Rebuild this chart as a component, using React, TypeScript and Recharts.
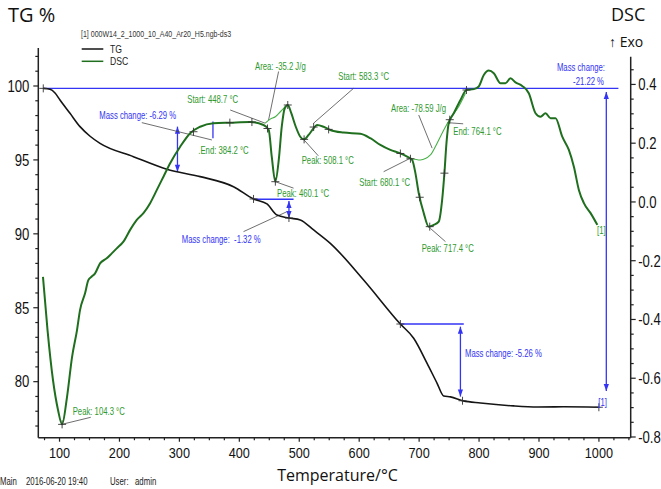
import React from 'react'
import { ComposedChart, Line, Scatter, XAxis, YAxis, ReferenceLine } from 'recharts'

// TG curve (temperature °C, mass %)
const tgTemp = [72.9, 84.1, 92.5, 100.8, 117.5, 134.2, 151, 167.6, 223.3, 279, 334.7, 390.3, 423.7, 446.1, 462.8, 482.8, 501.7, 524, 551.8, 607.4, 668.7, 690.9, 713.3, 730, 741, 752.2, 773.9, 802.4, 857.5, 897.6, 941, 999.9]
const tgMass = [99.84, 99.78, 99.53, 99.05, 98.15, 97.25, 96.6, 96.12, 95.22, 94.37, 93.87, 93.19, 92.36, 92.02, 91.27, 91.07, 90.94, 90.26, 89.36, 86.88, 83.9, 82.94, 81.24, 79.89, 79.03, 78.97, 78.7, 78.56, 78.36, 78.29, 78.3, 78.27]

// DSC curve (temperature °C, signal)
const dscTemp = [72.4, 80, 89.1, 97.5, 104.3, 112.5, 120.9, 129.2, 134.2, 142.6, 148.1, 153.8, 159.3, 167.6, 178.8, 187.2, 195.5, 206.6, 217.8, 228.9, 240, 251.2, 262.4, 273.4, 284.6, 301.3, 318, 334.7, 356.9, 384.8, 418.2, 440.4, 449.1, 454.1, 460.1, 465.8, 470.8, 475.8, 480.8, 486.7, 494.2, 501.7, 508.1, 515.6, 523.9, 529.6, 540.6, 551.8, 574, 601.9, 618.6, 635.3, 652, 667.6, 679.9, 688.3, 693.8, 699.3, 707.7, 716, 724.4, 732.7, 738.4, 742.2, 745.6, 749.4, 757.8, 769, 779, 791.2, 799.5, 807.9, 816.2, 824.6, 835.8, 844.1, 852.5, 860.8, 872, 883, 894.2, 902.6, 910.9, 919.3, 927.6, 938.8, 949.8, 958.2, 966.5, 974.9, 986.1, 997.3]
const dscValue = [-0.255, -0.436, -0.606, -0.708, -0.757, -0.664, -0.528, -0.436, -0.368, -0.311, -0.266, -0.254, -0.243, -0.209, -0.192, -0.175, -0.158, -0.135, -0.095, -0.061, -0.038, -0.004, 0.041, 0.086, 0.132, 0.188, 0.234, 0.256, 0.268, 0.27, 0.272, 0.262, 0.245, 0.154, 0.069, 0.143, 0.256, 0.319, 0.33, 0.302, 0.256, 0.222, 0.213, 0.228, 0.251, 0.262, 0.256, 0.245, 0.236, 0.232, 0.217, 0.194, 0.177, 0.166, 0.154, 0.143, 0.098, 0.03, -0.038, -0.084, -0.078, -0.067, 0.007, 0.098, 0.2, 0.268, 0.302, 0.347, 0.381, 0.384, 0.393, 0.432, 0.447, 0.438, 0.404, 0.404, 0.421, 0.407, 0.395, 0.37, 0.302, 0.29, 0.302, 0.285, 0.285, 0.222, 0.177, 0.12, 0.041, -0.004, -0.038, -0.078]

// peak baselines (light green)
const base1Temp = [443.2, 451.6, 460.1, 468.4, 476.8]
const base1Value = [0.268, 0.282, 0.29, 0.307, 0.325]
const base2Temp = [685.5, 702.1, 718.8, 730, 741.1, 752.2, 766.1, 777.3]
const base2Value = [0.149, 0.143, 0.16, 0.2, 0.245, 0.285, 0.325, 0.37]

// evaluation markers
const dscMarkTemp = [104.3, 323.5, 384.2, 421, 447, 460.1, 480.8, 508.1, 524, 549, 668.7, 685.5, 701, 717.7, 742.2, 751.1, 779]
const dscMarkValue = [-0.757, 0.239, 0.27, 0.272, 0.25, 0.069, 0.33, 0.213, 0.255, 0.247, 0.165, 0.147, 0.016, -0.084, 0.098, 0.28, 0.381]
const tgMarkTemp = [72.9, 423.7, 482.8, 668.7, 772.4, 999.9]
const tgMarkValue = [99.84, 92.36, 91.07, 83.9, 78.71, 78.27]

// axis ticks
const xMajor = [100, 200, 300, 400, 500, 600, 700, 800, 900, 1000]
const tgMajor = [80, 85, 90, 95, 100]
const dscMajor = [-0.8, -0.6, -0.4, -0.2, 0, 0.2, 0.4]

const range = (a: number, b: number, step: number) => {
  const out: number[] = []
  for (let i = 0; a + i * step <= b + 1e-9; i++) out.push(Math.round((a + i * step) * 1000) / 1000)
  return out
}
const xTicks = range(75, 1050, 25)
const tgTicks = range(77, 102, 1)
const dscTicks = range(-0.8, 0.45, 0.05)

const zip = (t: number[], v: number[]) => t.map((x, i) => ({ t: x, v: v[i] }))
const tgData = zip(tgTemp, tgMass)
const dscData = zip(dscTemp, dscValue)
const base1 = zip(base1Temp, base1Value)
const base2 = zip(base2Temp, base2Value)
const dscMarks = zip(dscMarkTemp, dscMarkValue)
const tgMarks = zip(tgMarkTemp, tgMarkValue)

const X_DOMAIN: [number, number] = [64.6, 1053]
const DSC_DOMAIN: [number, number] = [-0.8024, 0.524]

const ARIAL = "'Liberation Sans', Arial, sans-serif"
const SANS = "'Open Sans', 'Noto Sans', sans-serif"
const BLUE = '#3434f4'
const GREEN_TXT = '#30992f'
const DARK_GREEN = '#1f6f1f'
const LIGHT_GREEN = '#45b045'
const LEADER = '#4a4a4a'
const AXIS = '#222'

// condensed text: Arial squeezed horizontally, like Arial Narrow
const NText = ({ x, y, size, fill = '#111', anchor = 'start', sx = 0.82, children }: any) => (
  <text
    transform={`translate(${x},${y}) scale(${sx},1)`}
    fontFamily={ARIAL}
    fontSize={size}
    fill={fill}
    textAnchor={anchor}
    style={{ whiteSpace: 'pre' }}
  >
    {children}
  </text>
)

const near = (a: number, list: number[]) => list.some((m) => Math.abs(m - a) < 1e-6)

const XTick = (p: any) => {
  const major = near(p.payload.value, xMajor)
  return (
    <g>
      <line x1={p.x} y1={p.y} x2={p.x} y2={p.y + (major ? 4 : 2.5)} stroke={AXIS} strokeWidth={1.2} />
      {major && (
        <NText x={p.x} y={p.y + 20.5} size={15.5} anchor="middle">
          {p.payload.value}
        </NText>
      )}
    </g>
  )
}

const LeftTick = (p: any) => {
  const major = near(p.payload.value, tgMajor)
  return (
    <g>
      <line x1={p.x - (major ? 5 : 3)} y1={p.y} x2={p.x} y2={p.y} stroke={AXIS} strokeWidth={1.2} />
      {major && (
        <NText x={p.x - 9} y={p.y + 5.8} size={16} anchor="end">
          {p.payload.value}
        </NText>
      )}
    </g>
  )
}

const RightTick = (p: any) => {
  const major = near(p.payload.value, dscMajor)
  return (
    <g>
      <line x1={p.x} y1={p.y} x2={p.x + (major ? 5 : 3)} y2={p.y} stroke={AXIS} strokeWidth={1.2} />
      {major && (
        <NText x={p.x + 7.5} y={p.y + 5.8} size={16}>
          {p.payload.value.toFixed(1)}
        </NText>
      )}
    </g>
  )
}

const Cross = (p: any) => (
  <path d={`M${p.cx - 4},${p.cy}H${p.cx + 4}M${p.cx},${p.cy - 4}V${p.cy + 4}`} stroke="#333" strokeWidth={0.9} />
)

const Arrow = (p: any) => {
  const { x1, y1, y2 } = p
  const top = Math.min(y1, y2)
  const bot = Math.max(y1, y2)
  return (
    <g>
      <line x1={x1} y1={top} x2={x1} y2={bot} stroke={BLUE} strokeWidth={1.3} />
      <polygon points={`${x1},${top} ${x1 - 2.6},${top + 7} ${x1 + 2.6},${top + 7}`} fill={BLUE} />
      <polygon points={`${x1},${bot} ${x1 - 2.6},${bot - 7} ${x1 + 2.6},${bot - 7}`} fill={BLUE} />
    </g>
  )
}

// blue mass-change construction lines on the TG axis: [t1, v1, t2, v2]
const tgGuides = [
  [72.9, 99.84, 1032.5, 99.84],
  [356, 97.59, 356, 96.46],
  [423.7, 92.34, 490.5, 92.34],
  [668.7, 83.9, 774.5, 83.9],
]
const tgArrows = [
  [1012.3, 99.6, 1012.3, 79.37],
  [296.8, 97.25, 296.8, 94.2],
  [482.8, 92.22, 482.8, 91.07],
  [768.9, 83.72, 768.9, 78.99],
]
// grey leader lines: [t1, v1, t2, v2]
const dscLeaders = [
  [103.7, -0.757, 152.1, -0.733],
  [237.3, 0.27, 354.2, 0.211],
  [384.8, 0.313, 443.2, 0.268],
  [465.5, 0.444, 448.8, 0.279],
  [460.1, 0.069, 490.5, 0.047],
  [507.2, 0.213, 531.8, 0.157],
  [590.7, 0.387, 523.9, 0.268],
  [699.3, 0.296, 721.7, 0.183],
  [640.8, 0.103, 685.5, 0.149],
  [746.7, 0.27, 773.5, 0.266],
  [718.8, -0.09, 743.9, -0.135],
]
const tgLeaders = [[407, 90.15, 479.5, 91.5]]

type Note = { text: string; x: number; y: number; color: string; anchor?: 'start' | 'end' }
const notes: Note[] = [
  { text: 'Peak: 104.3 °C', x: 72.7, y: 410.7, color: GREEN_TXT },
  { text: 'Start: 448.7 °C', x: 187.3, y: 99.3, color: GREEN_TXT },
  { text: 'Area: -35.2 J/g', x: 255, y: 66, color: GREEN_TXT },
  { text: '.End: 384.2 °C', x: 198.3, y: 150, color: GREEN_TXT },
  { text: 'Peak: 460.1 °C', x: 277, y: 192.7, color: GREEN_TXT },
  { text: 'Peak: 508.1 °C', x: 301.7, y: 160, color: GREEN_TXT },
  { text: 'Start: 583.3 °C', x: 338.3, y: 76, color: GREEN_TXT },
  { text: 'Area: -78.59 J/g', x: 391, y: 108.3, color: GREEN_TXT },
  { text: 'Start: 680.1 °C', x: 359.3, y: 181.7, color: GREEN_TXT },
  { text: 'End: 764.1 °C', x: 453.3, y: 131, color: GREEN_TXT },
  { text: 'Peak: 717.4 °C', x: 421.7, y: 248.3, color: GREEN_TXT },
  { text: '[1]', x: 597, y: 230, color: GREEN_TXT },
  { text: 'Mass change: -6.29 %', x: 99.3, y: 115, color: BLUE },
  { text: 'Mass change:  -1.32 %', x: 181.7, y: 239.3, color: BLUE },
  { text: 'Mass change: -5.26 %', x: 465, y: 352.7, color: BLUE },
  { text: 'Mass change:', x: 605, y: 67.3, color: BLUE, anchor: 'end' },
  { text: '-21.22 %', x: 604, y: 80.7, color: BLUE, anchor: 'end' },
  { text: '[1]', x: 598.3, y: 401.7, color: BLUE },
]

export default function App() {
  return (
    <div style={{ position: 'absolute', left: 0, top: 0, width: 661, height: 489, background: '#fff' }}>
      <ComposedChart width={661} height={489} margin={{ top: 48, right: 0, bottom: 0, left: 0 }}>
        <XAxis
          type="number"
          dataKey="t"
          domain={X_DOMAIN}
          allowDataOverflow
          ticks={xTicks}
          interval={0}
          tick={<XTick />}
          tickLine={false}
          tickSize={0}
          tickMargin={0}
          height={51.3}
          axisLine={{ stroke: AXIS, strokeWidth: 1.5 }}
        />
        <YAxis
          yAxisId="tg"
          type="number"
          domain={[76.21, 102.57]}
          allowDataOverflow
          ticks={tgTicks}
          interval={0}
          tick={<LeftTick />}
          tickLine={false}
          tickSize={0}
          tickMargin={0}
          width={38.3}
          axisLine={{ stroke: AXIS, strokeWidth: 1.5 }}
        />
        <YAxis
          yAxisId="dsc"
          orientation="right"
          type="number"
          domain={DSC_DOMAIN}
          allowDataOverflow
          ticks={dscTicks}
          interval={0}
          tick={<RightTick />}
          tickLine={false}
          tickSize={0}
          tickMargin={0}
          width={30.3}
          axisLine={false}
        />
        {/* the DSC axis line starts a little below the top of the plot */}
        <ReferenceLine
          yAxisId="dsc"
          segment={[{ x: X_DOMAIN[1], y: DSC_DOMAIN[0] }, { x: X_DOMAIN[1], y: 0.494 }]}
          stroke={AXIS}
          strokeWidth={1.5}
        />

        {tgGuides.map((g, i) => (
          <ReferenceLine key={'g' + i} yAxisId="tg" segment={[{ x: g[0], y: g[1] }, { x: g[2], y: g[3] }]} stroke={BLUE} strokeWidth={1.3} />
        ))}
        {tgArrows.map((g, i) => (
          <ReferenceLine key={'a' + i} yAxisId="tg" segment={[{ x: g[0], y: g[1] }, { x: g[2], y: g[3] }]} shape={Arrow} />
        ))}
        {tgLeaders.map((g, i) => (
          <ReferenceLine key={'tl' + i} yAxisId="tg" segment={[{ x: g[0], y: g[1] }, { x: g[2], y: g[3] }]} stroke={LEADER} strokeWidth={0.8} />
        ))}
        {dscLeaders.map((g, i) => (
          <ReferenceLine key={'dl' + i} yAxisId="dsc" segment={[{ x: g[0], y: g[1] }, { x: g[2], y: g[3] }]} stroke={LEADER} strokeWidth={0.8} />
        ))}

        <Line yAxisId="dsc" data={base1} dataKey="v" type="monotone" stroke={LIGHT_GREEN} strokeWidth={1.1} dot={false} isAnimationActive={false} />
        <Line yAxisId="dsc" data={base2} dataKey="v" type="monotone" stroke={LIGHT_GREEN} strokeWidth={1.1} dot={false} isAnimationActive={false} />
        <Line yAxisId="tg" data={tgData} dataKey="v" type="monotone" stroke="#151515" strokeWidth={1.6} dot={false} isAnimationActive={false} />
        <Line yAxisId="dsc" data={dscData} dataKey="v" type="monotone" stroke={DARK_GREEN} strokeWidth={2} dot={false} isAnimationActive={false} />
        <Scatter yAxisId="dsc" data={dscMarks} dataKey="v" shape={Cross} isAnimationActive={false} />
        <Scatter yAxisId="tg" data={tgMarks} dataKey="v" shape={Cross} isAnimationActive={false} />
      </ComposedChart>

      <svg width={661} height={489} style={{ position: 'absolute', left: 0, top: 0, pointerEvents: 'none' }}>
        <text x={8} y={21.5} fontFamily={SANS} fontSize={20} fill="#111">TG %</text>
        <text x={611} y={21} fontFamily={SANS} fontSize={18} fill="#111">DSC</text>
        <text x={609} y={47} fontFamily={SANS} fontSize={14} fill="#111">↑ Exo</text>
        <NText x={81} y={37.3} size={9} sx={0.78} fill="#333">[1] 000W14_2_1000_10_A40_Ar20_H5.ngb-ds3</NText>
        <line x1={81.7} y1={49} x2={103.3} y2={49} stroke="#151515" strokeWidth={1.5} />
        <NText x={110} y={52.7} size={10.5} fill="#222">TG</NText>
        <line x1={81.7} y1={61.3} x2={103.3} y2={61.3} stroke={DARK_GREEN} strokeWidth={1.5} />
        <NText x={110} y={65} size={10.5} fill="#222">DSC</NText>
        {notes.map((n, i) => (
          <NText key={i} x={n.x} y={n.y + 3.8} size={10.6} sx={0.73} fill={n.color} anchor={n.anchor ?? 'start'}>
            {n.text}
          </NText>
        ))}
        <text x={337.5} y={481} textAnchor="middle" fontFamily={SANS} fontSize={16} fill="#111">Temperature/°C</text>
        <NText x={0} y={485} size={10} sx={0.78} fill="#222">Main</NText>
        <NText x={26} y={485} size={10} sx={0.78} fill="#222">2016-06-20 19:40</NText>
        <NText x={110} y={485} size={10} sx={0.78} fill="#222">User:</NText>
        <NText x={135} y={485} size={10} sx={0.78} fill="#222">admin</NText>
      </svg>
    </div>
  )
}
